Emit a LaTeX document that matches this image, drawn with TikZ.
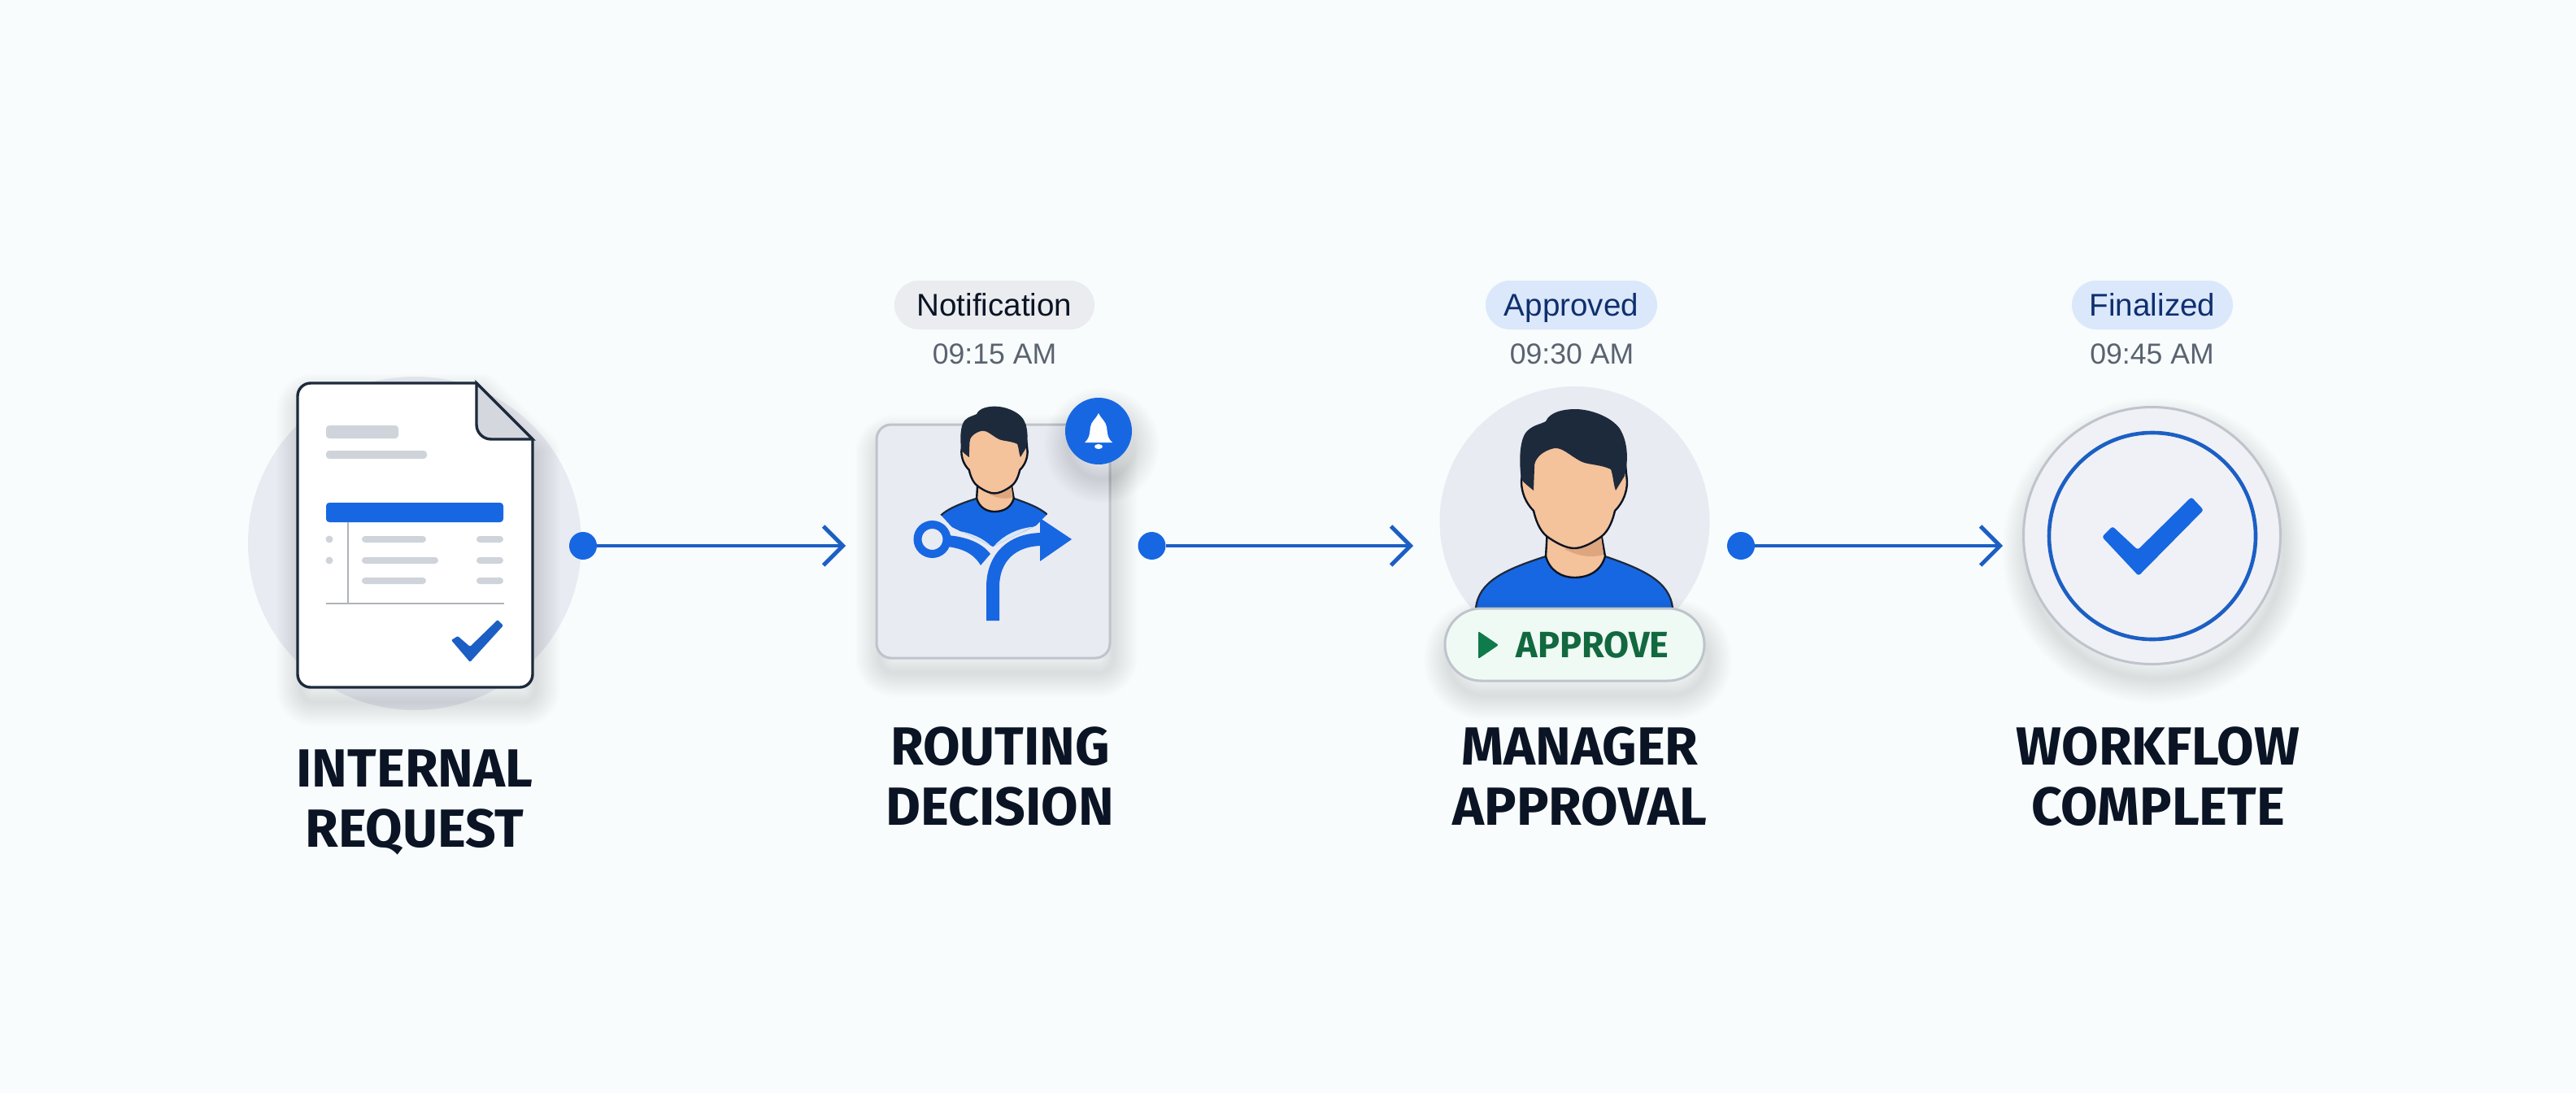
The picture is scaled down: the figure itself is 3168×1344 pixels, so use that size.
\documentclass[tikz,border=0pt]{standalone}
\usepackage{fontspec}
\setmainfont{Liberation Sans}
\newfontfamily\titlefont{Fira Sans}
\usetikzlibrary{arrows.meta,shapes.misc}
\definecolor{pagebg}{HTML}{F8FCFD}
\definecolor{backgray}{HTML}{E9EBF2}
\definecolor{edgegray}{HTML}{BFC4CC}
\definecolor{barblue}{HTML}{1767E2}
\definecolor{flowblue}{HTML}{1C5FC4}
\definecolor{halo}{HTML}{D9E8F8}
\definecolor{inkdark}{HTML}{0B1424}
\definecolor{hairdark}{HTML}{1D2A3C}
\definecolor{skin}{HTML}{F4C29B}
\definecolor{skindark}{HTML}{DDA67F}
\definecolor{docbar}{HTML}{CFD3DA}
\definecolor{greenink}{HTML}{12683F}
\definecolor{greentip}{HTML}{0F7A4A}
\definecolor{greenfill}{HTML}{EEFAF3}
\definecolor{pillblue}{HTML}{DBE8FB}
\definecolor{pillgray}{HTML}{EAECF0}
\definecolor{navyink}{HTML}{0F2F6E}
\definecolor{timegray}{HTML}{5A636F}
\newcommand{\softshadow}[1]{\foreach \g in {2,4,...,30}{\draw[black,opacity=0.006,line width=\g pt,line join=round,shift={(4,18)}] #1;}}
\tikzset{
	backdisc/.style={circle,fill=backgray,inner sep=0pt},
	flowdot/.style={circle,fill=barblue,inner sep=0pt,minimum size=17pt},
	flowline/.style={flowblue,line width=2.4pt,-{Straight Barb[length=12pt,width=24pt,line width=2.4pt]}},
	titletext/.style={anchor=north,inner sep=0pt,align=center,text=inkdark,font=\titlefont\fontsize{33}{37}\selectfont\bfseries},
	statuspill/.style={rounded rectangle,inner sep=0pt,minimum height=30pt,text height=13.5pt,text depth=0pt,font=\fontsize{19.3}{22}\selectfont},
	timetext/.style={anchor=base,inner sep=0pt,text=timegray,font=\fontsize{17.8}{20}\selectfont},
	docbarline/.style={fill=docbar,rounded corners=2pt},
	personpic/.pic={
		\draw[fill=barblue,draw=hairdark,line width=1.1pt] (-121,158) .. controls (-118,125) and (-85,110) .. (-35,94) -- (38,94) .. controls (85,110) and (118,125) .. (121,158) -- cycle;
		\draw[fill=skin,draw=inkdark,line width=1.2pt] (-33,60) -- (-35,94) .. controls (-30,112) and (-15,120) .. (0,120) .. controls (18,120) and (33,112) .. (38,94) -- (32,60) -- cycle;
		\fill[skindark] (-12,85) .. controls (5,94) and (20,96) .. (36,92) -- (33,68) -- cycle;
		\draw[fill=skin,draw=inkdark,line width=1.2pt] (-65,2) .. controls (-65,15) and (-60,28) .. (-50,38) .. controls (-46,55) and (-40,66) .. (-30,72) .. controls (-18,80) and (-8,84) .. (0,84) .. controls (8,84) and (18,80) .. (30,72) .. controls (40,66) and (46,55) .. (50,38) .. controls (60,28) and (65,15) .. (65,2) -- (60,-50) -- (-60,-50) -- cycle;
		\fill[hairdark] (-50,13) .. controls (-56,8) and (-62,4) .. (-65,-1) .. controls (-68,-20) and (-68,-50) .. (-58,-60) .. controls (-50,-68) and (-42,-68) .. (-35,-72) .. controls (-30,-84) and (-12,-87) .. (1,-87) .. controls (20,-87) and (45,-78) .. (56,-63) .. controls (64,-50) and (68,-30) .. (62,-5) -- (51,13) .. controls (48,5) and (48,-5) .. (45,-13) .. controls (30,-20) and (15,-18) .. (6,-24) .. controls (-5,-30) and (-15,-40) .. (-24,-39) .. controls (-40,-36) and (-50,-25) .. (-49,-15) -- cycle;
	}
}
\begin{document}
\begin{tikzpicture}[x=0.5pt,y=-0.5pt]
	\fill[pagebg] (0,0) rectangle (3168,1344);
	% first step
	\node[backdisc,minimum size=205pt] (reqback) at (510,668) {};
	\softshadow{(382,471) -- (586,471) -- (655,540) -- (655,829) arc[start angle=0,end angle=90,radius=16] -- (382,845) arc[start angle=90,end angle=180,radius=16] -- (366,487) arc[start angle=180,end angle=270,radius=16] -- cycle}
	\draw[fill=white,draw=hairdark,line width=1.7pt] (382,471) -- (586,471) -- (655,540) -- (655,829) arc[start angle=0,end angle=90,radius=16] -- (382,845) arc[start angle=90,end angle=180,radius=16] -- (366,487) arc[start angle=180,end angle=270,radius=16] -- cycle;
	\draw[fill=docbar!90!white,draw=hairdark,line width=1.7pt] (586,471) -- (655,540) -- (604,540) arc[start angle=90,end angle=180,radius=18] -- cycle;
	\fill[docbarline] (401,523) rectangle (490,539);
	\fill[docbarline] (401,554) rectangle (525,564);
	\fill[barblue,rounded corners=2pt] (401,618) rectangle (619,642);
	\draw[docbar!85!black,line width=1pt] (428,642) -- (428,742);
	\draw[docbar!85!black,line width=1pt] (401,742) -- (620,742);
	\foreach \y/\r in {663/524,689/539,714/524}{
		\fill[docbarline] (445,\y-4) rectangle (\r,\y+4);
		\fill[docbarline] (586,\y-4) rectangle (619,\y+4);
	}
	\foreach \y in {663,689}{
		\fill[docbar] (405,\y) circle[radius=4.5];
	}
	\fill[flowblue,rounded corners=0.6pt] (555,787) -- (563,782) -- (578,795) -- (612,762) -- (619,769) -- (578,814) -- cycle;
	\node[titletext] (reqtitle) at (510,921) {INTERNAL\\REQUEST};
	\node[flowdot] (reqdot) at (717,671) {};
	\coordinate (reqend) at (1040,671);
	\draw[flowline] (reqdot) -- (reqend);
	% second step
	\node[statuspill,fill=pillgray,text=inkdark,minimum width=123pt] (routepill) at (1223,375) {Notification};
	\node[timetext] (routetime) at (1223,447) {09:15 AM};
	\softshadow{[rounded corners=9pt] (1078,522) rectangle (1365,809)}
	\draw[fill=backgray,draw=edgegray,line width=1.5pt,rounded corners=9pt] (1078,522) rectangle (1365,809);
	\begin{scope}
		\clip (1100,480) -- (1340,480) -- (1288,632) -- (1274,646) -- (1221,672) -- (1171,648) -- (1156,632) -- cycle;
		\pic[scale=0.625] at (1223,554) {personpic};
		\fill[barblue] (1150,640) rectangle (1295,680);
		\draw[halo,line width=16pt] (1221,722) .. controls (1221,685) and (1245,663) .. (1282,663);
		\draw[halo,line width=7pt,line join=round] (1165,658) .. controls (1190,660) and (1208,668) .. (1218,681);
	\end{scope}
	\draw[barblue,line width=8pt] (1221,763) -- (1221,722) .. controls (1221,685) and (1245,663) .. (1282,663);
	\fill[barblue] (1279,637) -- (1318,663) -- (1279,690) -- cycle;
	\fill[barblue] (1165,658) .. controls (1190,660) and (1208,668) .. (1218,681) -- (1206,695) .. controls (1200,685) and (1190,675) .. (1165,672) -- cycle;
	\draw[barblue,line width=5pt] (1146.5,663) circle[radius=18];
	\softshadow{(1351,530) circle[radius=41]}
	\node[circle,fill=barblue,inner sep=0pt,minimum size=41pt] (routebell) at (1351,530) {};
	\fill[white] (1334,544) .. controls (1341,538) and (1340,530) .. (1341,525) .. controls (1342,518) and (1347,516) .. (1351,508) .. controls (1355,516) and (1360,518) .. (1361,525) .. controls (1362,530) and (1361,538) .. (1368,544) -- cycle;
	\fill[white] (1351,549) ellipse[x radius=5,y radius=3];
	\node[titletext] (routetitle) at (1230,893) {ROUTING\\DECISION};
	\node[flowdot] (routedot) at (1416.5,671) {};
	\coordinate (routeend) at (1738,671);
	\draw[flowline] (routedot) -- (routeend);
	% third step
	\node[statuspill,fill=pillblue,text=navyink,minimum width=105.5pt] (apprpill) at (1932.5,375) {Approved};
	\node[timetext] (apprtime) at (1933,447) {09:30 AM};
	\node[backdisc,minimum size=166pt] (apprback) at (1936.5,641) {};
	\pic at (1936,590) {personpic};
	\softshadow{[rounded corners=22pt] (1777,748) rectangle (2096,837)}
	\node[rounded rectangle,draw=edgegray,fill=greenfill,line width=1.5pt,inner sep=0pt,minimum width=159.5pt,minimum height=44.5pt] (apprbtn) at (1936.5,792.5) {};
	\fill[greentip,rounded corners=1pt] (1818,776) -- (1843,793) -- (1818,810) -- cycle;
	\node[inner sep=0pt,text height=14.5pt,text depth=0pt,text=greenink,font=\titlefont\fontsize{22.5}{24}\selectfont\bfseries] (apprlabel) at (1958.5,793.5) {APPROVE};
	\node[titletext] (apprtitle) at (1943,893) {MANAGER\\APPROVAL};
	\node[flowdot] (apprdot) at (2141,671) {};
	\coordinate (apprend) at (2463,671);
	\draw[flowline] (apprdot) -- (apprend);
	% last step
	\node[statuspill,fill=pillblue,text=navyink,minimum width=99pt] (donepill) at (2647,375) {Finalized};
	\node[timetext] (donetime) at (2646.5,447) {09:45 AM};
	\softshadow{(2646.5,658.5) circle[radius=158]}
	\node[circle,draw=edgegray,fill=backgray!70!white,line width=1.5pt,inner sep=0pt,minimum size=158pt] (doneback) at (2646.5,658.5) {};
	\node[circle,draw=flowblue,line width=2.3pt,inner sep=0pt,minimum size=127pt] (donering) at (2647,659) {};
	\fill[barblue,rounded corners=1.5pt] (2585,660) -- (2598,647) -- (2629,676) -- (2695,611) -- (2710,627) -- (2630,708) -- cycle;
	\node[titletext] (donetitle) at (2654,893) {WORKFLOW\\COMPLETE};
\end{tikzpicture}
\end{document}
